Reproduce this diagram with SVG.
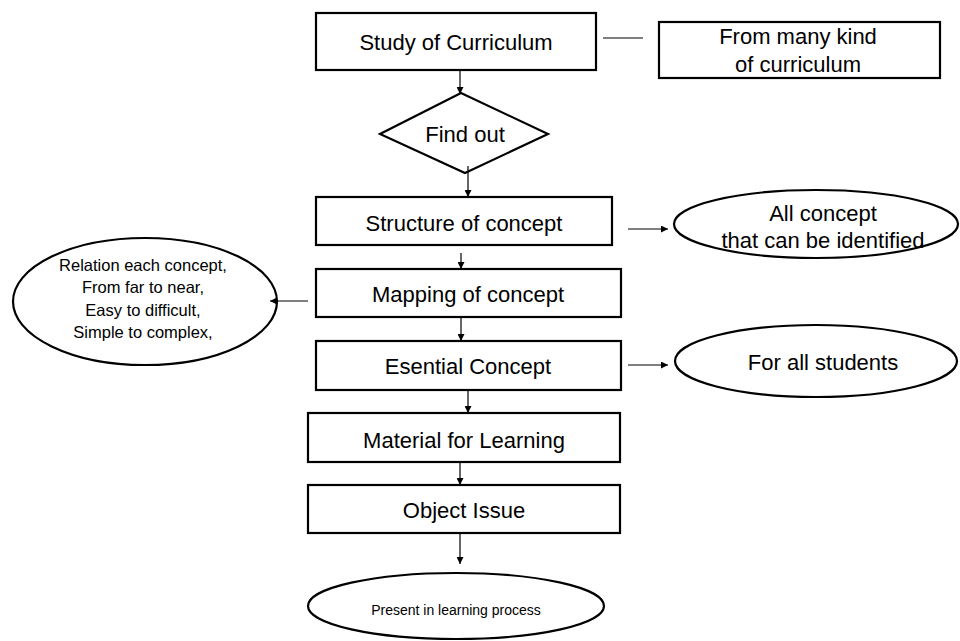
<svg xmlns="http://www.w3.org/2000/svg" width="960" height="641" viewBox="0 0 960 641">
<style>
.box{fill:#fff;stroke:#000;stroke-width:2.2}
.t{font-family:"Liberation Sans",Arial,sans-serif;font-size:22px;fill:#000;text-anchor:middle}
.s{font-size:16.5px}
.xs{font-size:14px}
.ln{stroke:#000;stroke-width:1.2;fill:none}
</style>
<defs>
<marker id="ah" viewBox="0 0 10 10" refX="10" refY="5" markerWidth="7" markerHeight="7" markerUnits="userSpaceOnUse" orient="auto">
<path d="M0,0 L10,5 L0,10 z" fill="#000"/>
</marker>
</defs>
<rect width="960" height="641" fill="#fff"/>
<g id="study">
<rect class="box" x="316" y="13" width="280" height="57"/>
<text class="t" x="456" y="50">Study of Curriculum</text>
</g>
<g id="many">
<rect class="box" x="659" y="22" width="281" height="56"/>
<text class="t" x="798" y="44">From many kind</text>
<text class="t" x="798" y="72">of curriculum</text>
</g>
<g id="findout">
<polygon class="box" points="461,93 548,134 465,173 380,134"/>
<text class="t" x="465" y="142">Find out</text>
</g>
<g id="structure">
<rect class="box" x="316" y="197" width="296" height="48"/>
<text class="t" x="464" y="231">Structure of concept</text>
</g>
<g id="allconcept">
<ellipse class="box" cx="816" cy="224" rx="142" ry="34"/>
<text class="t" x="823" y="221">All concept</text>
<text class="t" x="823" y="248">that can be identified</text>
</g>
<g id="mapping">
<rect class="box" x="316" y="269" width="305" height="48"/>
<text class="t" x="468" y="302">Mapping of concept</text>
</g>
<g id="relation">
<ellipse class="box" cx="145" cy="301.5" rx="132" ry="63.5"/>
<text class="t s" x="143" y="271">Relation each concept,</text>
<text class="t s" x="143" y="293">From far to near,</text>
<text class="t s" x="143" y="316">Easy to difficult,</text>
<text class="t s" x="143" y="338">Simple to complex,</text>
</g>
<g id="esential">
<rect class="box" x="316" y="341" width="305" height="49"/>
<text class="t" x="468" y="374">Esential Concept</text>
</g>
<g id="students">
<ellipse class="box" cx="816" cy="361" rx="141" ry="36"/>
<text class="t" x="823" y="370">For all students</text>
</g>
<g id="material">
<rect class="box" x="308" y="413" width="312" height="49"/>
<text class="t" x="464" y="448">Material for Learning</text>
</g>
<g id="object">
<rect class="box" x="308" y="485" width="312" height="48"/>
<text class="t" x="464" y="518">Object Issue</text>
</g>
<g id="present">
<ellipse class="box" cx="456" cy="606" rx="148" ry="33"/>
<text class="t xs" x="456" y="615">Present in learning process</text>
</g>
<g id="connectors">
<line class="ln" x1="460" y1="70" x2="460" y2="94" marker-end="url(#ah)"/>
<line class="ln" x1="468" y1="166" x2="468" y2="197" marker-end="url(#ah)"/>
<line class="ln" x1="461" y1="253" x2="461" y2="269" marker-end="url(#ah)"/>
<line class="ln" x1="461" y1="317" x2="461" y2="341" marker-end="url(#ah)"/>
<line class="ln" x1="468" y1="390" x2="468" y2="413" marker-end="url(#ah)"/>
<line class="ln" x1="460" y1="462" x2="460" y2="485" marker-end="url(#ah)"/>
<line class="ln" x1="460" y1="533" x2="460" y2="564" marker-end="url(#ah)"/>
<line class="ln" x1="603" y1="38" x2="643" y2="38"/>
<line class="ln" x1="628" y1="229" x2="668" y2="229" marker-end="url(#ah)"/>
<line class="ln" x1="308" y1="301" x2="270" y2="301" marker-end="url(#ah)"/>
<line class="ln" x1="628" y1="365" x2="668" y2="365" marker-end="url(#ah)"/>
</g>
</svg>
